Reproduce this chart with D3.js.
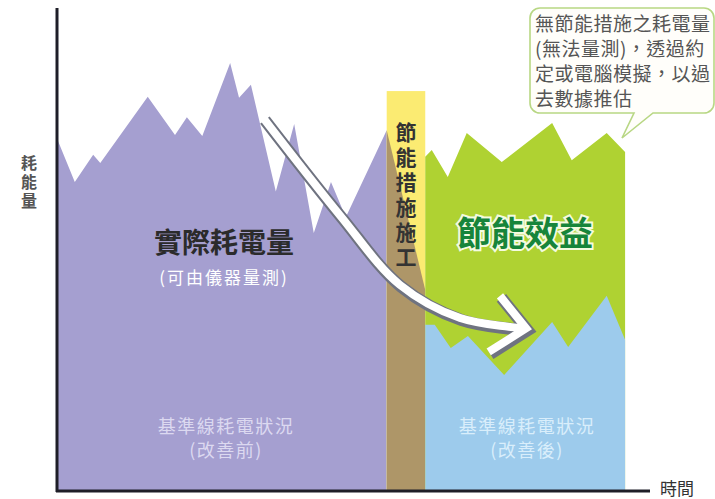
<!DOCTYPE html>
<html>
<head>
<meta charset="utf-8">
<script src="https://cdn.jsdelivr.net/npm/d3@7"></script>
<style>
  body { margin: 0; background: #fff; }
  text { font-family: "Noto Sans CJK TC", "Noto Sans CJK SC", sans-serif; }
  .vert { writing-mode: vertical-rl; text-orientation: upright; }
</style>
</head>
<body>
<div id="chart"></div>
<script>
// time (0-100) / energy (0-100) readings of each profile

// actual consumption before the retrofit
var beforeT = [0, 3.0, 6.1, 7.3, 15.3, 19.9, 21.9, 24.5, 29.2, 30.7, 32.7, 36.9, 40.0, 43.3, 46.2, 48.7, 55.6];
var beforeV = [73, 64, 69.6, 67.9, 81.6, 73.7, 77.4, 73.5, 88.6, 81.4, 84.1, 62, 76, 53.4, 64, 56.7, 74.7];

// construction column
var workT = [55.6, 62.1];
var workTop = 82.8;
var workBrownV = [74.7, 41.6];

// estimated consumption without measures
var greenT = [62.1, 63.2, 65.9, 69.1, 75.0, 83.5, 86.8, 92.7, 95.8];
var greenV = [69.2, 70.6, 65.0, 74.1, 68.1, 76.2, 68.5, 74.1, 70.2];

// baseline after the retrofit
var blueT = [62.1, 63.7, 66.4, 69.3, 75.4, 83.5, 86.2, 92.7, 95.8];
var blueV = [34.4, 34.4, 29.6, 32.1, 24.0, 35.0, 29.8, 40.4, 31.3];

// arrow path
var arrowT = [34.8, 47.7, 57.8, 68.0, 78.9];
var arrowV = [77.2, 57.1, 42.7, 35.8, 33.7];
var headT = [74.7, 79.1, 72.8];
var headV = [40.4, 33.7, 28.8];

var svgWidth = 715, svgHeight = 499;

var svg = d3.select("#chart").append("svg")
  .attr("width", svgWidth)
  .attr("height", svgHeight);

var x = d3.scaleLinear().domain([0, 100]).range([57, 650]);
var y = d3.scaleLinear().domain([0, 100]).range([491, 8]);

function pts(ts, vs) {
  return ts.map((t, i) => [t, vs[i]]);
}

var area = d3.area()
  .x(d => x(d[0]))
  .y0(y(0))
  .y1(d => y(d[1]));

// purple area
svg.append("path")
  .datum(pts(beforeT, beforeV))
  .attr("d", area)
  .attr("fill", "#a59fd0");

// construction column: yellow with brown under the slope
svg.append("rect")
  .attr("x", x(workT[0]))
  .attr("y", y(workTop))
  .attr("width", x(workT[1]) - x(workT[0]))
  .attr("height", y(0) - y(workTop))
  .attr("fill", "#fbeb72");

svg.append("path")
  .datum(pts(workT, workBrownV))
  .attr("d", area)
  .attr("fill", "#ae9668");

// green and blue areas
svg.append("path")
  .datum(pts(greenT, greenV))
  .attr("d", area)
  .attr("fill", "#afd232");

svg.append("path")
  .datum(pts(blueT, blueV))
  .attr("d", area)
  .attr("fill", "#9dcbec");

// axes
svg.append("line")
  .attr("x1", x(0)).attr("x2", x(0))
  .attr("y1", y(100)).attr("y2", y(0) + 1)
  .attr("stroke", "#1e1e28").attr("stroke-width", 3);

svg.append("line")
  .attr("x1", x(0) - 1).attr("x2", x(100))
  .attr("y1", y(0)).attr("y2", y(0))
  .attr("stroke", "#1e1e28").attr("stroke-width", 3);

// arrow
var line = d3.line()
  .x(d => x(d[0]))
  .y(d => y(d[1]))
  .curve(d3.curveCatmullRom);
var headLine = d3.line().x(d => x(d[0])).y(d => y(d[1]));

var shaft = pts(arrowT, arrowV);
var head = pts(headT, headV);

var arrow = svg.append("g");
[["#6f7380", 12, "translate(1.5,2)"], ["#fff", 8, null]].forEach(function(s) {
  arrow.append("path")
    .datum(shaft)
    .attr("d", line)
    .attr("transform", s[2])
    .attr("fill", "none")
    .attr("stroke", s[0])
    .attr("stroke-width", s[1]);
  arrow.append("path")
    .datum(head)
    .attr("d", headLine)
    .attr("transform", s[2])
    .attr("fill", "none")
    .attr("stroke", s[0])
    .attr("stroke-width", s[1])
    .attr("stroke-linejoin", "miter");
});

// axis labels
svg.append("text")
  .attr("x", 660).attr("y", 490)
  .attr("dominant-baseline", "middle")
  .attr("font-size", "17px")
  .attr("fill", "#333")
  .text("時間");

svg.append("text")
  .attr("class", "vert")
  .attr("x", 29).attr("y", 155)
  .attr("font-size", "16px")
  .attr("font-weight", "bold")
  .attr("letter-spacing", "3px")
  .attr("fill", "#555")
  .text("耗能量");

// texts inside areas
svg.append("text")
  .attr("x", 224).attr("y", 253)
  .attr("text-anchor", "middle")
  .attr("font-size", "28px")
  .attr("font-weight", "bold")
  .attr("fill", "#2b2b2b")
  .text("實際耗電量");

svg.append("text")
  .attr("x", 224).attr("y", 284)
  .attr("text-anchor", "middle")
  .attr("font-size", "17px")
  .attr("letter-spacing", "2px")
  .attr("fill", "#fff")
  .text("(可由儀器量測)");

function lowerLabel(cx, color, second) {
  svg.append("text")
    .attr("x", cx).attr("y", 433)
    .attr("text-anchor", "middle")
    .attr("font-size", "18px")
    .attr("letter-spacing", "1.5px")
    .attr("fill", color)
    .text("基準線耗電狀況");
  svg.append("text")
    .attr("x", cx).attr("y", 457)
    .attr("text-anchor", "middle")
    .attr("font-size", "18px")
    .attr("letter-spacing", "1.5px")
    .attr("fill", color)
    .text(second);
}
lowerLabel(226, "#dcd9f0", "(改善前)");
lowerLabel(527, "#d9eefb", "(改善後)");

svg.append("text")
  .attr("x", 525).attr("y", 246)
  .attr("text-anchor", "middle")
  .attr("font-size", "34px")
  .attr("font-weight", "bold")
  .attr("fill", "#17853a")
  .attr("stroke", "#f4fbe0")
  .attr("stroke-width", 4)
  .attr("paint-order", "stroke")
  .text("節能效益");

svg.append("text")
  .attr("class", "vert")
  .attr("x", 406).attr("y", 122)
  .attr("font-size", "21px")
  .attr("font-weight", "bold")
  .attr("letter-spacing", "4px")
  .attr("fill", "#333")
  .text("節能措施施工");

// callout
var bx = 530, by = 8, bw = 184, bh = 105, r = 10;
var callout = d3.path();
callout.moveTo(bx + r, by);
callout.lineTo(bx + bw - r, by);
callout.arcTo(bx + bw, by, bx + bw, by + r, r);
callout.lineTo(bx + bw, by + bh - r);
callout.arcTo(bx + bw, by + bh, bx + bw - r, by + bh, r);
callout.lineTo(653, by + bh);
callout.lineTo(622, 138);
callout.lineTo(634, by + bh);
callout.lineTo(bx + r, by + bh);
callout.arcTo(bx, by + bh, bx, by + bh - r, r);
callout.lineTo(bx, by + r);
callout.arcTo(bx, by, bx + r, by, r);
callout.closePath();

svg.append("path")
  .attr("d", callout.toString())
  .attr("fill", "#fffefa")
  .attr("stroke", "#b8d784")
  .attr("stroke-width", 1.6);

var calloutLines = ["無節能措施之耗電量", "(無法量測)，透過約", "定或電腦模擬，以過", "去數據推估"];
svg.selectAll(".callout")
  .data(calloutLines)
  .enter().append("text")
  .attr("class", "callout")
  .attr("x", 535)
  .attr("y", (d, i) => 31 + i * 25)
  .attr("font-size", "19px")
  .attr("letter-spacing", "0.5px")
  .attr("fill", "#555")
  .text(d => d);
</script>
</body>
</html>
